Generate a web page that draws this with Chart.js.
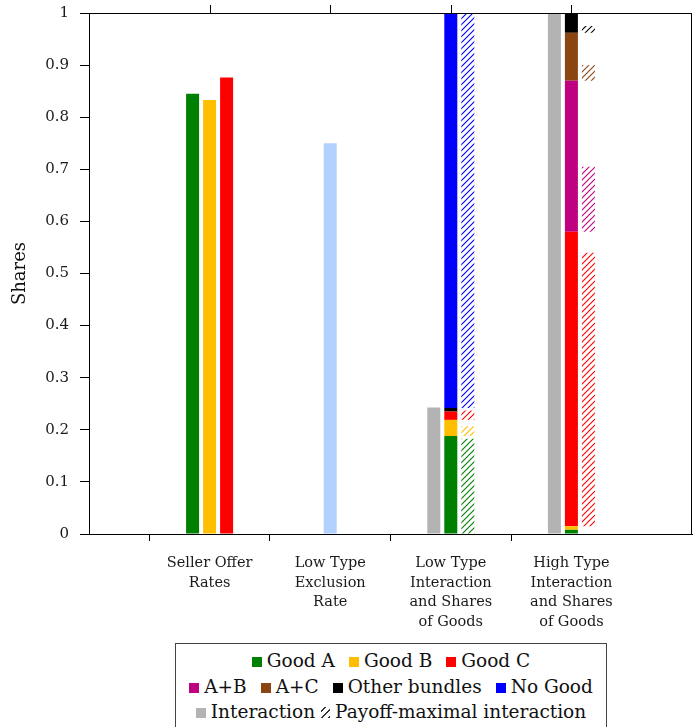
<!DOCTYPE html>
<html>
<head>
<meta charset="utf-8">
<script src="https://cdn.jsdelivr.net/npm/chart.js@4.4.0/dist/chart.umd.min.js"></script>
<style>
  body { margin: 0; background: #fff; }
  #wrap { position: relative; width: 694px; height: 727px; overflow: hidden; }
  #chart { position: absolute; left: 0; top: 0; }
  #legend {
    position: absolute; left: 175px; top: 643px; width: 432px; height: 100px;
    border: 1px solid #444; box-sizing: border-box; padding-top: 4px;
    font-family: "DejaVu Serif", serif; font-size: 18.5px; line-height: 25.5px;
    text-align: center; color: #111; white-space: nowrap;
  }
  .sw { display: inline-block; width: 10px; height: 10px; margin: 0 5px 0 14px; }
  .sw:first-child { margin-left: 0; }
  .hatch {
    display: inline-block; width: 9px; height: 11px; margin: 0 5px 0 6px;
    background: repeating-linear-gradient(135deg, #fff 0 2.5px, #333 2.5px 3.6px, #fff 3.6px 5px);
  }
</style>
</head>
<body>
<div id="wrap">
  <canvas id="chart" width="694" height="643"></canvas>
  <div id="legend">
    <div><span class="sw" style="background:#008000"></span>Good A<span class="sw" style="background:#ffbf00"></span>Good B<span class="sw" style="background:#ff0000"></span>Good C</div>
    <div><span class="sw" style="background:#bf0080"></span>A+B<span class="sw" style="background:#8b4513"></span>A+C<span class="sw" style="background:#000"></span>Other bundles<span class="sw" style="background:#0000ff"></span>No Good</div>
    <div><span class="sw" style="background:#b3b3b3"></span>Interaction<span class="hatch"></span>Payoff-maximal interaction</div>
  </div>
</div>
<script>
// categories (first and last are empty padding slots)
const categories = [
  [''],
  ['Seller Offer', 'Rates'],
  ['Low Type', 'Exclusion', 'Rate'],
  ['Low Type', 'Interaction', 'and Shares', 'of Goods'],
  ['High Type', 'Interaction', 'and Shares', 'of Goods'],
  ['']
];

// seller offer rates for good A, B, C
const offerRates = [0.845, 0.833, 0.876];
const exclusionRate = 0.75;
// interaction rate: low type, high type
const interaction = [0.243, 1.0];

// shares of goods, order: A, B, C, A+B, A+C, other, none
const segNames = ['Good A', 'Good B', 'Good C', 'A+B', 'A+C', 'Other bundles', 'No Good'];
const segColors = ['#008000', '#ffbf00', '#ff0000', '#bf0080', '#8b4513', '#000000', '#0000ff'];
const lowShares = [0.188, 0.031, 0.016, 0, 0, 0.007, 0.758];
const highShares = [0.008, 0.007, 0.565, 0.29, 0.092, 0.038, 0];
// payoff-maximal interaction shares (hatched)
const lowPayoffMax = [0.183, 0.019, 0.018, 0, 0, 0, 0.758];
const highPayoffMax = [0, 0, 0.525, 0.125, 0.03, 0.013, 0];

const yTicks = ['0', '0.1', '0.2', '0.3', '0.4', '0.5', '0.6', '0.7', '0.8', '0.9', '1'];

const serif = '"DejaVu Serif", serif';

function hatch(color) {
  const c = document.createElement('canvas');
  c.width = 6; c.height = 6;
  const g = c.getContext('2d');
  g.strokeStyle = color;
  g.lineWidth = 1.1;
  g.beginPath();
  g.moveTo(0, 6); g.lineTo(6, 0);
  g.moveTo(-1, 1); g.lineTo(1, -1);
  g.moveTo(5, 7); g.lineTo(7, 5);
  g.stroke();
  return g.createPattern(c, 'repeat');
}

// running bases of the stacked share bars
function ranges(shares, payoff) {
  let base = 0;
  const out = { stacked: [], hatched: [] };
  for (let i = 0; i < shares.length; i++) {
    out.stacked.push(shares[i] > 0 ? [base, base + shares[i]] : null);
    out.hatched.push(payoff[i] > 0 ? [base, base + payoff[i]] : null);
    base += shares[i];
  }
  return out;
}
const lowR = ranges(lowShares, lowPayoffMax);
const highR = ranges(highShares, highPayoffMax);

const datasets = [];
// left slot
datasets.push({ label: 'Offer A', stack: 'L', backgroundColor: segColors[0],
  data: [null, offerRates[0], null, null, null, null] });
datasets.push({ label: 'Interaction', stack: 'L', backgroundColor: '#b3b3b3',
  data: [null, null, null, interaction[0], interaction[1], null] });
// middle slot
datasets.push({ label: 'Offer B', stack: 'M', backgroundColor: segColors[1],
  data: [null, offerRates[1], null, null, null, null] });
datasets.push({ label: 'Exclusion', stack: 'M', backgroundColor: '#b3d1ff',
  data: [null, null, exclusionRate, null, null, null] });
for (let i = 0; i < segNames.length; i++) {
  datasets.push({ label: segNames[i], stack: 'M', backgroundColor: segColors[i],
    data: [null, null, null, lowR.stacked[i], highR.stacked[i], null] });
}
// right slot
datasets.push({ label: 'Offer C', stack: 'R', backgroundColor: segColors[2],
  data: [null, offerRates[2], null, null, null, null] });
for (let i = 0; i < segNames.length; i++) {
  datasets.push({ label: segNames[i] + ' (payoff-max)', stack: 'R', backgroundColor: hatch(segColors[i]),
    data: [null, null, null, lowR.hatched[i], highR.hatched[i], null] });
}

// frame + ticks on the top edge
const framePlugin = {
  id: 'frame',
  afterDraw(chart) {
    const { ctx, chartArea: a, scales } = chart;
    ctx.save();
    ctx.strokeStyle = '#000';
    ctx.lineWidth = 1;
    ctx.strokeRect(Math.round(a.left) + 0.5, Math.round(a.top) + 0.5,
      Math.round(a.right - a.left) - 1, Math.round(a.bottom - a.top));
    ctx.beginPath();
    for (let i = 1; i <= 4; i++) {
      const x = Math.round(scales.x.getPixelForTick(i)) + 0.5;
      ctx.moveTo(x, a.top);
      ctx.lineTo(x, a.top - 8);
    }
    ctx.stroke();
    ctx.restore();
  }
};

new Chart(document.getElementById('chart'), {
  type: 'bar',
  data: { labels: categories, datasets: datasets },
  plugins: [framePlugin],
  options: {
    responsive: false,
    animation: false,
    categoryPercentage: 0.423,
    barPercentage: 0.765,
    borderWidth: 0,
    layout: { padding: { top: 13, right: 2, left: 0, bottom: 0 } },
    plugins: { legend: { display: false }, tooltip: { enabled: false } },
    scales: {
      x: {
        type: 'category',
        offset: false,
        grid: {
          drawOnChartArea: false, tickLength: 7,
          tickColor: (c) => (c.index === 0 || c.index === 5) ? 'rgba(0,0,0,0)' : '#000'
        },
        border: { color: '#000' },
        ticks: { autoSkip: false, maxRotation: 0, padding: 13, color: '#1a1a1a',
          font: { family: serif, size: 14.5, lineHeight: 1.34 } },
        afterFit: (s) => { s.height = 643 - 534; s.paddingLeft = 0; s.paddingRight = 0; }
      },
      y: {
        stacked: false,
        min: 0, max: 1,
        grid: { drawOnChartArea: false, tickLength: 9, tickColor: '#000' },
        border: { color: '#000' },
        ticks: { stepSize: 0.1, padding: 11, color: '#1a1a1a',
          font: { family: serif, size: 15 },
          callback: (v, i) => yTicks[i] },
        title: { display: true, text: 'Shares', color: '#111', padding: { top: 10, bottom: 0 },
          font: { family: serif, size: 18 } },
        afterFit: (s) => { s.width = 89; s.paddingTop = 0; s.paddingBottom = 0; }
      }
    }
  }
});
</script>
</body>
</html>
